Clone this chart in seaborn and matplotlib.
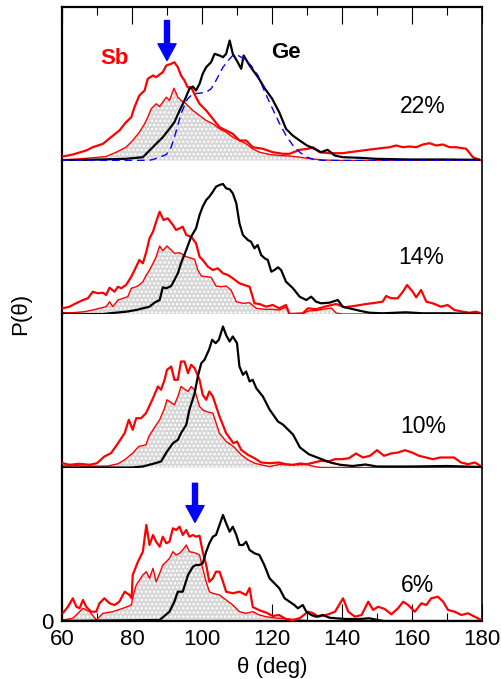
import matplotlib
matplotlib.use("Agg")
import matplotlib.pyplot as plt
import numpy as np
import pandas as pd
import seaborn as sns

# ---------------------------------------------------------------------------
# Bond-angle distributions P(theta) for four compositions (arbitrary units)
# ---------------------------------------------------------------------------
compositions = ["22%", "14%", "10%", "6%"]

# ---- 22 % ----
sb22_theta = [60.2, 63.1, 66.9, 68.8, 71.7, 74.0, 76.4, 78.3, 79.8, 80.7, 82.1, 83.6, 84.5, 86.0,
              86.9, 87.9, 88.8, 89.8, 91.2, 92.1, 93.1, 94.0, 95.0, 95.9, 96.9, 98.3, 99.3, 101.2,
              103.1, 105.0, 106.9, 108.8, 110.7, 112.6, 114.5, 117.4, 120.2, 123.1, 125.0, 127.9,
              130.3, 131.7, 133.6, 136.4, 140.2, 142.1, 145.9, 149.7, 153.6, 155.5, 157.4, 159.3,
              161.2, 163.1, 165.0, 166.9, 168.8, 170.7, 172.6, 175.5, 177.4, 179.3]
sb22 = [4, 6, 10, 13.3, 16.7, 23.3, 30, 38.3, 43.3, 53.3, 65, 70, 81.7, 85,
        83.3, 86, 88.3, 95, 96.7, 98.3, 93.3, 85, 80, 73.3, 73.3, 63.3, 56.7, 50,
        41.7, 33.3, 30, 26.7, 20, 20, 13.3, 11.7, 8.3, 6.7, 6.7, 10.7,
        11.7, 13.3, 8.3, 7.3, 7.3, 8.3, 10, 11.7, 13.3, 15, 13.3, 14,
        13.3, 16, 17.3, 15, 16, 13.3, 13.3, 11.7, 3.3, 0.7]

sb22_part_theta = [60.2, 65.0, 68.8, 72.6, 75.5, 78.3, 80.2, 82.1, 83.6, 84.5, 85.5, 86.9, 87.9,
                   88.8, 89.8, 90.7, 92.0, 93.1, 94.0, 95.0, 95.9, 97.4, 99.3, 101.2, 103.1,
                   105.0, 106.9, 108.8, 110.7, 112.6, 114.5, 116.4, 119.3, 122.1, 125.0, 128.0,
                   131.0, 135.0, 140.0, 180.0]
sb22_part = [0.7, 1.7, 2.7, 4, 8.3, 13.3, 20, 28.3, 36.7, 43.3, 51.7, 56.7, 54,
             58.3, 63.3, 60, 72.3, 63.3, 60, 58.3, 55, 50, 45, 40, 36.7,
             31.7, 28.3, 23.3, 20, 16.7, 11.7, 8.3, 6, 5, 4.5, 3.3,
             1.7, 0.5, 0, 0]

ge22_theta = [60.2, 78.3, 83.1, 85.0, 86.9, 88.8, 90.7, 92.1, 93.6, 95.0, 96.4, 97.4, 98.3, 99.3,
              100.2, 101.2, 102.6, 103.6, 105.0, 106.0, 106.9, 107.9, 108.8, 110.2, 111.2, 111.9,
              113.6, 116.0, 118.0, 120.0, 122.1, 124.0, 125.9, 127.9, 130.0, 132.1, 134.0, 135.9,
              137.9, 140.2, 145.0, 149.7, 159.3, 168.8, 179.3]
ge22 = [0, 1.7, 3.3, 10, 16.7, 23.3, 31.7, 38.3, 50, 60, 71.7, 74, 70, 76.7,
        86.7, 93.3, 98.3, 106.7, 105, 103.3, 106.7, 120, 106.7, 98.3, 91.7, 105,
        95, 83.3, 71.7, 62, 48, 31.7, 25, 20, 15, 11.7, 8.3, 10.7,
        5, 3.3, 2.7, 1.7, 1, 1, 0.7]

fit22_theta = [60, 70, 80, 85, 86, 87.9, 89.8, 91.2, 92.1, 93.1, 94.0, 95.0, 95.9, 97.4, 99.3,
               101.2, 102.6, 104.0, 106.0, 107.9, 108.8, 109.8, 111.2, 112.6, 114.0, 116.0,
               118.0, 120.0, 122.0, 124.0, 126.0, 128.0, 130.0, 132.0, 135.0, 150.0, 180.0]
fit22 = [0, 0, 0, 0.3, 1, 3.3, 6, 13.3, 23.3, 35, 46.7, 55, 61.7, 66.7, 67.3,
         68.3, 71.7, 80, 93.3, 101.7, 105, 106, 103.3, 100, 95, 85,
         68, 53, 38, 25, 15, 8, 3.3, 1, 0, 0, 0]

# ---- 14 % ----
sb14_theta = [60.2, 62.1, 64.0, 66.0, 67.4, 68.8, 70.2, 71.7, 72.6, 73.6, 75.0, 76.0, 76.9, 78.3,
              79.8, 81.2, 82.1, 83.1, 84.1, 85.0, 86.0, 86.9, 87.9, 89.0, 90.2, 91.7, 92.6, 93.6,
              94.5, 95.5, 96.9, 98.3, 99.3, 100.2, 101.7, 103.1, 104.5, 106.0, 107.4, 108.8,
              110.7, 112.1, 113.6, 115.0, 116.4, 118.3, 120.2, 122.1, 124.0, 125.0, 128.8,
              130.3, 132.6, 135.0, 138.3, 140.7, 144.0, 146.9, 149.7, 151.6, 152.6, 154.0,
              155.9, 157.4, 158.6, 160.2, 161.2, 162.6, 164.1, 165.9, 168.3, 170.2, 172.1,
              174.5, 176.4, 178.3, 179.7]
sb14 = [5.7, 7.3, 10.7, 14, 15.7, 22.3, 20.7, 21.3, 19, 26.3, 22.3, 27.3, 25.7, 29,
        37.3, 47.3, 54, 50.7, 62.3, 75.7, 82.3, 92.3, 102.3, 94, 95.7, 89, 84, 85.7,
        87.3, 79, 77.3, 70.7, 57.3, 54, 47.3, 44, 45.7, 40.7, 39, 35.7,
        30.7, 29, 27.3, 10.7, 10, 7.3, 9, 5.7, 9, 0, 0.7,
        5.7, 4.7, 7.3, 10, 6.7, 8.3, 10, 11.3, 12.3, 18, 15.7,
        15.7, 22.3, 29, 22.3, 16.7, 24, 12.3, 10.7, 7.3, 9, 4,
        2.3, 1.3, 2.3, 0.7]

sb14_part_theta = [60.2, 63.1, 66.4, 68.8, 70.7, 72.6, 73.6, 74.5, 76.0, 77.4, 78.8, 79.8, 81.2,
                   82.1, 83.1, 84.1, 85.0, 86.0, 86.9, 87.9, 88.8, 90.0, 91.2, 92.1, 93.6, 95.5,
                   96.9, 97.9, 98.8, 99.8, 101.2, 102.6, 104.0, 105.5, 106.9, 108.3, 109.8,
                   111.7, 113.6, 115.5, 117.9, 120.2, 122.1, 124.0, 125.0, 128.8, 130.3, 132.6,
                   135.0, 137.0, 138.3, 140.0, 180.0]
sb14_part = [1.3, 1.3, 2.3, 4, 5.7, 7.3, 12.3, 7.3, 14, 15.7, 17.3, 25.7, 27.3,
             29, 32.3, 39, 44, 50.7, 57.3, 68, 63.3, 68, 64, 60.7, 61.3, 57.3,
             55.7, 54.7, 44, 38, 37.3, 36.7, 28, 27.3, 28, 24, 12.3,
             10.7, 11.3, 5.7, 4.7, 4.7, 4, 7, 0, 0, 3, 3.5,
             5, 6, 1, 0, 0]

ge14_theta = [60.2, 71.7, 73.6, 78.3, 81.2, 83.1, 85.0, 86.4, 87.9, 88.8, 89.8, 91.2, 92.1, 93.1,
              94.0, 95.5, 96.9, 98.3, 99.3, 100.2, 101.2, 102.1, 103.1, 104.0, 105.0, 106.0,
              106.9, 107.9, 108.8, 109.8, 110.7, 111.7, 113.1, 114.0, 115.0, 115.9, 116.9,
              117.9, 118.8, 119.8, 120.7, 121.7, 122.6, 124.0, 126.0, 127.9, 129.8, 131.2,
              132.6, 134.0, 136.4, 138.8, 140.2, 142.1, 145.0, 147.8, 151.6, 158.3, 163.1,
              170.7, 179.3]
ge14 = [0, 0, 0.7, 2.3, 4, 5.7, 7.3, 11.3, 14, 26.7, 25.7, 28, 34, 40.7,
        50.7, 64, 77.3, 85.7, 99, 107.3, 114, 117.3, 122.3, 127.3, 129, 130,
        125.7, 124.7, 120.7, 110.7, 90.7, 79, 74, 72.3, 65.7, 69, 59,
        55.7, 54, 42.3, 44, 46.7, 44, 32.3, 25.7, 17.3, 14, 17.3,
        12.3, 10.7, 11.3, 14, 7.3, 5.7, 3.3, 1.3, 0.7, 1.7, 0.7,
        0.7, 0]

# ---- 10 % ----
sb10_theta = [60.2, 62.1, 65.0, 67.9, 70.0, 72.1, 74.0, 76.0, 77.9, 79.1, 80.2, 81.2, 82.6, 84.0,
              86.0, 87.4, 88.3, 89.3, 90.0, 91.2, 92.1, 93.1, 94.0, 95.0, 96.0, 96.9, 97.9,
              99.3, 100.2, 101.2, 102.1, 103.1, 105.0, 106.9, 109.0, 110.0, 111.2, 113.1,
              115.0, 116.9, 119.3, 122.0, 124.0, 126.0, 128.0, 130.0, 132.0, 134.0, 136.0,
              138.0, 140.0, 142.0, 144.0, 146.0, 148.0, 150.0, 152.0, 154.0, 156.0, 158.0,
              160.0, 162.0, 164.0, 166.0, 168.0, 170.0, 172.0, 174.0, 176.0, 178.0, 180.0]
sb10 = [4.3, 2.7, 3.7, 2.7, 4.3, 11, 14.3, 24.3, 34.3, 47.7, 37.7, 49.3, 49.3, 54.3,
        69.3, 81, 77.7, 87.7, 97.7, 101, 87.7, 87.7, 106, 106, 94.3, 102.7, 99.3,
        87.7, 72.7, 67.7, 76, 71, 51, 34.3, 24.3, 26, 17.7, 12.7,
        9.3, 5, 4.3, 5, 3.3, 2.7, 4, 3.3, 5, 6.7, 6,
        8.3, 8.3, 9.3, 14, 10, 11.7, 17.3, 11.7, 14, 15, 17.3,
        15, 11.7, 10, 8.3, 10, 10, 10, 5, 3.3, 5, 0.7]

sb10_part_theta = [60.0, 63.0, 66.0, 70.0, 73.0, 76.0, 77.9, 80.2, 81.9, 84.0, 84.8, 86.0, 87.9,
                   89.3, 90.0, 92.1, 93.1, 94.0, 96.0, 96.9, 97.9, 99.3, 100.2, 101.2, 103.1,
                   105.0, 106.9, 109.0, 111.2, 113.1, 115.0, 116.9, 119.3, 122.0, 126.0, 130.0,
                   132.0, 134.0, 180.0]
sb10_part = [1.5, 2, 1.5, 1.3, 1.5, 3.7, 7.7, 14.3, 21, 22.7, 31, 37.7, 47.7,
             59.3, 67.7, 62.7, 71, 81, 76, 81, 77.7, 61, 57.7, 56, 54.3,
             34.3, 26, 21, 12.7, 7.7, 4.3, 2.7, 1, 3, 2.5, 3,
             1, 0, 0]

ge10_theta = [60.0, 80.0, 83.1, 86.0, 88.3, 90.0, 91.7, 93.1, 94.0, 95.5, 96.4, 97.9, 98.8, 99.8,
              100.7, 102.0, 102.9, 103.9, 104.8, 106.0, 106.9, 107.9, 108.8, 110.0, 110.7, 111.7,
              112.6, 113.6, 114.5, 115.5, 117.4, 119.3, 121.7, 123.1, 126.0, 128.0, 130.5,
              132.9, 136.7, 139.5, 143.0, 146.7, 150.0, 160.0, 170.0, 180.0]
ge10 = [0, 0, 1, 3.7, 6, 16, 24.3, 27.7, 34.3, 42.7, 57.7, 74.3, 91, 104.3,
        107.7, 117.7, 127.7, 124.3, 127.7, 141, 132.3, 126, 131, 124.3, 101, 92.7,
        96, 86, 87.7, 79.3, 71, 58, 46, 43, 33, 20, 13.3,
        10, 5, 2.7, 1.5, 3, 1, 1, 1.5, 0.5]

# ---- 6 % ----
sb6_theta = [60.2, 61.7, 63.1, 64.1, 65.0, 66.0, 66.9, 68.3, 69.8, 70.7, 72.1, 73.6, 75.0, 76.4,
             77.9, 79.3, 79.9, 80.2, 81.7, 83.1, 84.1, 85.0, 86.0, 86.9, 87.9, 88.8, 89.8, 90.7,
             91.7, 92.6, 93.6, 94.5, 95.5, 96.4, 97.4, 98.3, 99.3, 100.2, 101.2, 102.1, 103.1,
             104.0, 105.0, 106.0, 106.9, 108.8, 110.7, 112.6, 113.6, 114.5, 116.4, 118.3, 120.2,
             122.0, 124.0, 126.0, 128.0, 130.3, 131.8, 133.2, 136.1, 138.0, 140.3, 141.8, 143.7,
             145.6, 147.5, 148.9, 150.3, 152.2, 154.1, 156.0, 157.5, 158.9, 160.8, 162.7, 164.1,
             165.5, 167.4, 168.9, 170.3, 172.2, 174.1, 176.0, 177.9, 179.8]
sb6 = [7.7, 14.3, 22.7, 14.3, 12.7, 21, 14.3, 9.3, 9.3, 17.7, 22.7, 17.7, 16, 19.3,
       29.3, 26, 22.7, 46, 59.3, 69.3, 96, 76, 86, 79.3, 74.3, 84.3, 77.7, 79.3,
       92.7, 91, 94.3, 86, 91, 84.3, 86, 84.3, 85.3, 69.3, 56, 39.3, 42.7,
       49.3, 49.3, 39.3, 29.3, 27.7, 29.3, 26, 33, 14, 10.7, 8.5, 5,
       6, 2, 1, 3, 9.3, 7.7, 4.3, 6.7, 9.3, 22.7, 9.3, 4.3,
       6, 19.3, 11, 14.3, 12, 6.7, 12.7, 19.3, 16, 9.3, 17.7, 16,
       22.7, 24.3, 19.3, 11, 9.3, 6, 7.7, 4.3, 1]

sb6_part_theta = [60.2, 63.1, 66.0, 67.9, 69.8, 71.7, 74.5, 77.4, 79.8, 80.4, 81.2, 83.1, 84.1,
                  85.0, 86.0, 86.9, 87.9, 88.8, 89.8, 90.7, 91.7, 92.6, 93.6, 94.5, 95.5, 96.4,
                  97.4, 98.3, 99.3, 100.2, 101.2, 102.1, 103.1, 105.0, 106.9, 108.8, 110.7,
                  112.6, 114.5, 116.4, 118.3, 120.2, 122.1, 126.0, 130.0, 132.0, 180.0]
sb6_part = [1, 2.7, 12.7, 9.3, 1, 7.7, 9.3, 12.7, 16, 26, 36, 46, 49.3,
            42.7, 52.7, 39.3, 47.7, 56, 59.3, 62.7, 69.3, 66, 67.7, 71, 76, 69.3,
            68.7, 67.7, 66, 52.7, 39.3, 29.3, 27.7, 26, 21, 16, 9.3,
            7.7, 9.3, 6, 4.3, 3.3, 2.7, 1.5, 0.5, 0, 0]

ge6_theta = [60.0, 87.9, 90.7, 92.1, 93.1, 94.5, 96.0, 97.4, 98.3, 99.3, 100.2, 101.2, 102.1,
             103.1, 104.0, 105.0, 106.0, 106.9, 107.9, 108.8, 109.8, 110.7, 111.7, 112.6, 113.6,
             115.0, 116.4, 117.8, 119.3, 120.7, 122.1, 123.6, 125.0, 126.4, 127.4, 128.8, 129.8,
             131.2, 132.6, 134.5, 136.4, 138.3, 141.1, 145.0, 147.8, 150.2, 152.0, 180.0]
ge6 = [0, 1, 9.3, 19.3, 29.3, 29.3, 46, 54.3, 56, 56, 57.7, 69.3, 77.7,
       84.3, 86, 96, 106, 97.7, 89.3, 94.3, 86, 76, 76, 79.3, 71,
       67.7, 66, 56, 42.7, 37.7, 32.7, 22.7, 19.3, 16, 12.7, 16, 9.3,
       6, 4.3, 6, 3.3, 2.7, 2, 2, 2.7, 1, 0, 0]

# Peak positions marked with arrows (deg) in the top and bottom panels
arrow_22 = 90
arrow_6 = 98

panels = [
    (sb22_theta, sb22, sb22_part_theta, sb22_part, ge22_theta, ge22),
    (sb14_theta, sb14, sb14_part_theta, sb14_part, ge14_theta, ge14),
    (sb10_theta, sb10, sb10_part_theta, sb10_part, ge10_theta, ge10),
    (sb6_theta, sb6, sb6_part_theta, sb6_part, ge6_theta, ge6),
]

# ---------------------------------------------------------------------------
sns.set_theme(style="white")
plt.rcParams["font.family"] = ["Liberation Sans", "DejaVu Sans"]
plt.rcParams["hatch.color"] = "white"
plt.rcParams["hatch.linewidth"] = 1.2
plt.rcParams["axes.linewidth"] = 1.6
for key in ("text.color", "axes.labelcolor", "xtick.color", "ytick.color", "axes.edgecolor"):
    plt.rcParams[key] = "black"

fig = plt.figure(figsize=(5.02, 6.79), dpi=100)
axes = fig.subplots(4, 1, sharex=True, gridspec_kw=dict(hspace=0))
fig.subplots_adjust(left=62 / 502, right=482 / 502, top=1 - 7 / 679, bottom=1 - 621 / 679)

RED = "#ff0000"
YTOP = 153.5
label_pos = [(163, 54), (162.7, 56), (163.3, 41), (161.6, 36)]

for i, (ax, label, data) in enumerate(zip(axes, compositions, panels)):
    st, sv, pt, pv, gt, gv = data
    df_sb = pd.DataFrame({"theta": st, "P": sv})
    df_pt = pd.DataFrame({"theta": pt, "P": pv})
    df_ge = pd.DataFrame({"theta": gt, "P": gv})

    ax.fill_between(df_pt["theta"], 0, df_pt["P"], facecolor="#d6d6d6",
                    edgecolor="white", hatch="....", linewidth=0, zorder=1)
    sns.lineplot(data=df_pt, x="theta", y="P", ax=ax, color=RED, lw=1.0,
                 estimator=None, zorder=2)
    sns.lineplot(data=df_sb, x="theta", y="P", ax=ax, color=RED, lw=1.6,
                 estimator=None, zorder=3)
    sns.lineplot(data=df_ge, x="theta", y="P", ax=ax, color="black", lw=1.6,
                 estimator=None, zorder=4)

    ax.set_xlim(60, 180)
    ax.set_ylim(0, YTOP)
    ax.set_xlabel("")
    ax.set_ylabel("")
    ax.set_yticks([])
    ax.set_xticks(np.arange(60, 181, 20))
    ax.set_xticks(np.arange(70, 180, 20), minor=True)
    ax.tick_params(axis="x", which="major", direction="in", length=12, width=0.8,
                   top=(i == 0), bottom=(i == 3), labelbottom=(i == 3), labelsize=16, pad=6)
    ax.tick_params(axis="x", which="minor", direction="in", length=5.5, width=0.8,
                   top=(i == 0), bottom=(i == 3))
    ax.spines["right"].set_linewidth(1.2)
    ax.spines["top"].set_visible(i == 0)
    ax.spines["bottom"].set_visible(i == 3)
    lx, ly = label_pos[i]
    ax.text(lx, ly, label, fontsize=16.5, ha="center", va="center", zorder=6)
    ax.patch.set_alpha(0)

# Fitted Ge contribution in the top panel
df_fit = pd.DataFrame({"theta": fit22_theta, "P": fit22})
sns.lineplot(data=df_fit, x="theta", y="P", ax=axes[0], color="#0000ff", lw=1.0,
             linestyle=(0, (5.5, 3.5)), estimator=None, zorder=5)
axes[0].set_xlabel("")
axes[0].set_ylabel("")

axes[0].text(75, 102, "Sb", color=RED, fontsize=16, fontweight="bold", ha="center", va="center")
axes[0].text(124, 108, "Ge", color="black", fontsize=16, fontweight="bold", ha="center", va="center")

arrow_kw = dict(facecolor="#0000ff", edgecolor="#0000ff", width=3.6, headwidth=13,
                headlength=12, shrink=0)
axes[0].annotate("", xy=(arrow_22, 100), xytext=(arrow_22, 140), arrowprops=arrow_kw, zorder=7)
axes[3].annotate("", xy=(arrow_6, 98.7), xytext=(arrow_6, 137.7), arrowprops=arrow_kw, zorder=7)

axes[3].set_yticks([0])
axes[3].set_yticklabels(["0"])
axes[3].tick_params(axis="y", length=0, labelsize=16, pad=6, left=True, labelleft=True)
axes[3].set_xlabel("θ (deg)", fontsize=16, labelpad=5)
fig.text(0.042, (679 - 314) / 679, "P(θ)", rotation=90, fontsize=16, ha="center", va="center")

fig.savefig("out.png", dpi=100)
